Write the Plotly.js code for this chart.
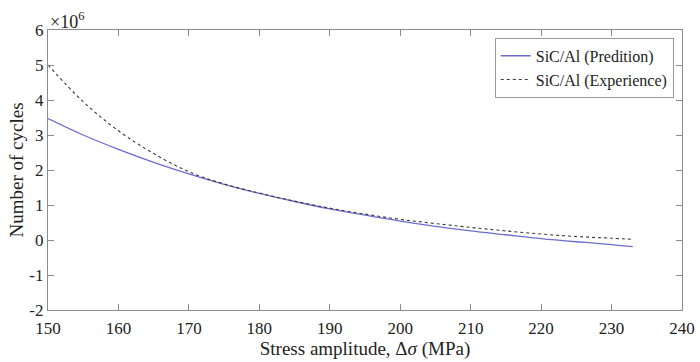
<!DOCTYPE html>
<html>
<head>
<meta charset="utf-8">
<script src="https://cdn.plot.ly/plotly-3.0.1.min.js"></script>
<style>html,body{margin:0;padding:0;background:#fff;}#chart{width:700px;height:362px;}</style>
</head>
<body>
<div id="chart"></div>
<script>
// Stress amplitude (MPa)
const stress = [150, 155, 160, 165, 170, 175, 180, 185, 190, 195, 200, 205, 210, 215, 220, 225, 230, 233];
// Number of cycles (x10^6)
const prediction = [3.47, 3.00, 2.59, 2.22, 1.89, 1.59, 1.33, 1.10, 0.89, 0.71, 0.54, 0.39, 0.26, 0.15, 0.04, -0.05, -0.13, -0.19];
const experience = [5.00, 3.95, 3.12, 2.47, 1.95, 1.60, 1.34, 1.11, 0.91, 0.74, 0.59, 0.47, 0.36, 0.26, 0.17, 0.10, 0.05, 0.02];
const xTicks = [150, 160, 170, 180, 190, 200, 210, 220, 230, 240];
const yTicks = [-2, -1, 0, 1, 2, 3, 4, 5, 6];
const yTickText = ['-2', '-1', '0', '1', '2', '3', '4', '5', '6'];

const font = 'Liberation Serif, Times New Roman, serif';
const axisColor = '#8c8c8c';

const traces = [
  {x: stress, y: prediction, type: 'scatter', mode: 'lines', name: 'SiC/Al (Predition)',
   line: {color: '#6c6cd0', width: 1.3, shape: 'spline'}},
  {x: stress, y: experience, type: 'scatter', mode: 'lines', name: 'SiC/Al (Experience)',
   line: {color: '#3a3a3a', width: 1.1, dash: 'dot', shape: 'spline'}}
];

const layout = {
  width: 700, height: 362,
  margin: {l: 48, r: 18, t: 30, b: 52},
  paper_bgcolor: '#fff', plot_bgcolor: '#fff',
  font: {family: font, size: 17, color: '#222'},
  showlegend: true,
  legend: {x: 0.987, y: 0.972, xanchor: 'right', yanchor: 'top',
           bgcolor: '#fff', bordercolor: '#999', borderwidth: 1,
           font: {family: font, size: 16, color: '#222'},
           tracegroupgap: 0, itemwidth: 30},
  xaxis: {
    range: [150, 240], tickvals: xTicks, ticktext: xTicks.map(String),
    ticks: 'inside', ticklen: 6, tickcolor: axisColor, tickwidth: 1,
    showline: true, linecolor: axisColor, linewidth: 1.2, mirror: 'ticks',
    showgrid: false, zeroline: false, ticklabelstandoff: 2,
    tickfont: {family: font, size: 17, color: '#222'},
    title: {text: 'Stress amplitude, Δ<i>σ</i> (MPa)', font: {family: font, size: 19, color: '#222'}, standoff: 4}
  },
  yaxis: {
    range: [-2, 6], tickvals: yTicks, ticktext: yTickText,
    ticks: 'inside', ticklen: 6, tickcolor: axisColor, tickwidth: 1,
    showline: true, linecolor: axisColor, linewidth: 1.2, mirror: 'ticks',
    showgrid: false, zeroline: false,
    tickfont: {family: font, size: 17, color: '#222'},
    title: {text: 'Number of cycles', font: {family: font, size: 19, color: '#222'}, standoff: 0}
  },
  annotations: [
    {xref: 'paper', yref: 'paper', x: 0.0, y: 1.0, xanchor: 'left', yanchor: 'bottom',
     text: '×10<sup>6</sup>', showarrow: false, font: {family: font, size: 18, color: '#222'}, yshift: -4}
  ]
};

Plotly.newPlot('chart', traces, layout, {staticPlot: true, displayModeBar: false});
</script>
</body>
</html>
